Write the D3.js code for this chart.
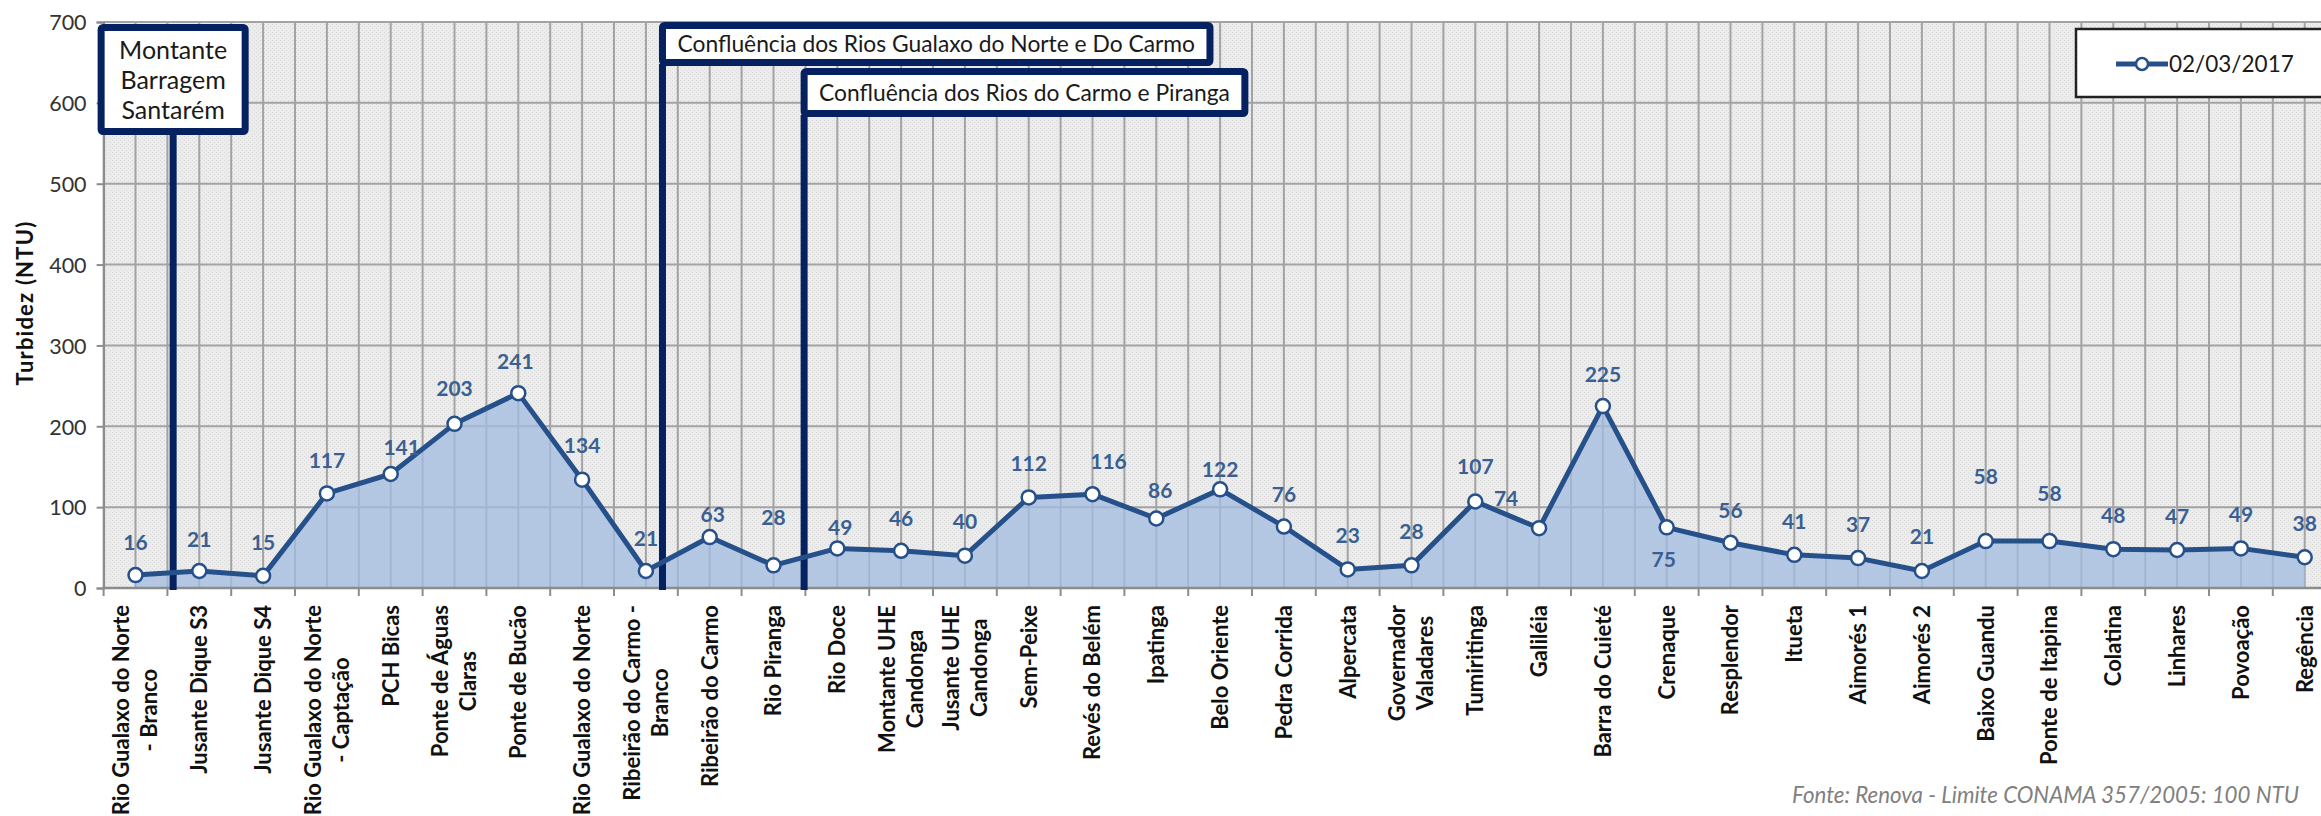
<!DOCTYPE html>
<html><head><meta charset="utf-8">
<script src="https://cdn.jsdelivr.net/npm/d3@7"></script>
<style>
html,body{margin:0;padding:0;background:#fff;}
svg{display:block;}
text{font-family:Lato,"Open Sans",sans-serif;}
</style>
</head><body>
<svg id="chart" width="2321" height="816"></svg>
<script>
// ---------------- DATA ----------------
const categories = [
  "Rio Gualaxo do Norte\n- Branco", "Jusante Dique S3", "Jusante Dique S4",
  "Rio Gualaxo do Norte\n- Captação", "PCH Bicas", "Ponte de Águas\nClaras",
  "Ponte de Bucão", "Rio Gualaxo do Norte", "Ribeirão do Carmo -\nBranco",
  "Ribeirão do Carmo", "Rio Piranga", "Rio Doce", "Montante UHE\nCandonga",
  "Jusante UHE\nCandonga", "Sem-Peixe", "Revés do Belém", "Ipatinga",
  "Belo Oriente", "Pedra Corrida", "Alpercata", "Governador\nValadares",
  "Tumiritinga", "Galiléia", "Barra do Cuieté", "Crenaque", "Resplendor",
  "Itueta", "Aimorés 1", "Aimorés 2", "Baixo Guandu", "Ponte de Itapina",
  "Colatina", "Linhares", "Povoação", "Regência"
];
const values = [16, 21, 15, 117, 141, 203, 241, 134, 21, 63, 28, 49, 46, 40, 112, 116, 86, 122, 76, 23, 28, 107, 74, 225, 75, 56, 41, 37, 21, 58, 58, 48, 47, 49, 38];
const seriesName = "02/03/2017";
const yTicks = [0, 100, 200, 300, 400, 500, 600, 700];
const yTitle = "Turbidez (NTU)";
const sourceNote = "Fonte: Renova - Limite CONAMA 357/2005: 100 NTU";
const annotationLines = [
  ["Montante", "Barragem", "Santarém"],
  ["Confluência dos Rios Gualaxo do Norte e Do Carmo"],
  ["Confluência dos Rios do Carmo e Piranga"]
];

// ---------------- LAYOUT / STYLE ----------------
const W = 2321, H = 816;
const plot = {left: 103.6, top: 22, bottom: 588, band: 63.8};
const C = {
  line: "#26508a", fill: "#a1bbe0", label: "#3a5f92", grid: "#a3a3a3",
  navy: "#06215f", axisText: "#333333"
};
// data-label nudges [dx, dy] relative to point (label centre); default [0,-34]
const labelNudge = {0:[0,-33],1:[0,-32],2:[0,-33],3:[0,-33],4:[11,-27],5:[0,-35],6:[-3,-32],
  8:[0,-33],9:[3,-23],10:[0,-48],11:[3,-21],12:[0,-32],15:[16,-33],16:[4,-28],17:[0,-20],
  18:[0,-32],21:[0,-35],22:[-33,-30],23:[0,-32],24:[-3,32],25:[0,-32],26:[0,-33],28:[0,-35],
  29:[0,-65],30:[0,-48]};
// annotation anchors: category index + fraction of band toward next category
const annotationLayout = [
  {cat: 0, frac: 0.59, align: "center", top: 24, h: 111, lineGap: 30, size: 25, pad: 18},
  {cat: 8, frac: 0.26, align: "left", top: 22, h: 44, size: 22.8, pad: 15},
  {cat: 10, frac: 0.48, align: "left", top: 68, h: 49, size: 22.8, pad: 15}
];

const svg = d3.select("#chart");
svg.append("rect").attr("width", W).attr("height", H).attr("fill", "#fff");

const x = d3.scaleBand().domain(d3.range(categories.length))
  .range([plot.left, plot.left + plot.band * categories.length]).padding(0);
const cx = i => x(i) + x.bandwidth() / 2;
const y = d3.scaleLinear().domain([0, 700]).range([plot.bottom, plot.top]);
const plotRight = W + 20;

// background with fine hatch
const defs = svg.append("defs");
const pat = defs.append("pattern").attr("id", "hatch").attr("width", 4).attr("height", 4)
  .attr("patternUnits", "userSpaceOnUse");
pat.append("rect").attr("width", 4).attr("height", 4).attr("fill", "#ececec");
pat.append("rect").attr("x", 0).attr("y", 0).attr("width", 1).attr("height", 1).attr("fill", "#d9d9d9");
pat.append("rect").attr("x", 2).attr("y", 2).attr("width", 1).attr("height", 1).attr("fill", "#d9d9d9");

svg.append("rect").attr("x", plot.left).attr("y", plot.top)
  .attr("width", plotRight - plot.left).attr("height", plot.bottom - plot.top)
  .attr("fill", "url(#hatch)");

// grid
const g = svg.append("g");
const vlines = [];
for (let i = 0; i <= categories.length; i++) {
  vlines.push(plot.left + i * plot.band);
  if (i < categories.length) vlines.push(cx(i));
}
g.selectAll("line.vg").data(vlines).join("line").attr("class", "vg")
  .attr("x1", d => d).attr("x2", d => d).attr("y1", plot.top).attr("y2", plot.bottom)
  .attr("stroke", C.grid).attr("stroke-width", 2);
g.selectAll("line.hg").data(yTicks).join("line").attr("class", "hg")
  .attr("x1", plot.left).attr("x2", plotRight).attr("y1", d => y(d)).attr("y2", d => y(d))
  .attr("stroke", C.grid).attr("stroke-width", 2);

// area
const area = d3.area().x((d, i) => cx(i)).y0(y(0)).y1(d => y(d));
svg.append("path").datum(values).attr("d", area).attr("fill", C.fill).attr("fill-opacity", 0.75);

// y axis
const yAxis = svg.append("g").attr("transform", `translate(${plot.left},0)`)
  .call(d3.axisLeft(y).tickValues(yTicks).tickSize(7).tickPadding(10).tickFormat(d3.format("d")));
yAxis.select(".domain").attr("stroke", "#8c8c8c").attr("stroke-width", 2);
yAxis.selectAll(".tick line").attr("stroke", "#8c8c8c").attr("stroke-width", 2);
yAxis.selectAll(".tick text").attr("font-size", 21.5).attr("fill", C.axisText)
  .attr("font-family", "Lato, sans-serif").attr("dy", "0.36em");

// x axis baseline and boundary ticks
svg.append("line").attr("x1", plot.left).attr("x2", plotRight).attr("y1", y(0)).attr("y2", y(0))
  .attr("stroke", "#8c8c8c").attr("stroke-width", 2.5);
svg.selectAll("line.xt").data(d3.range(categories.length + 1)).join("line").attr("class", "xt")
  .attr("x1", i => plot.left + i * plot.band).attr("x2", i => plot.left + i * plot.band)
  .attr("y1", y(0)).attr("y2", y(0) + 8).attr("stroke", "#8c8c8c").attr("stroke-width", 2);

// category labels (rotated)
const labelTop = 605, lineH = 28;
categories.forEach((name, i) => {
  const lines = name.split("\n");
  const t = svg.append("text").attr("font-size", 22).attr("font-weight", 700)
    .attr("fill", "#111").attr("text-anchor", "middle");
  lines.forEach((ln, k) => {
    t.append("tspan").attr("x", 0).attr("y", (k - (lines.length - 1) / 2) * lineH)
      .attr("dy", "0.36em").text(ln);
  });
  let L = 0;
  t.selectAll("tspan").each(function () { L = Math.max(L, this.getComputedTextLength()); });
  t.attr("transform", `translate(${cx(i)},${labelTop + L / 2}) rotate(-90)`);
});

// annotations (lines + boxes)
annotationLayout.forEach((a, k) => {
  const lx = cx(a.cat) + a.frac * plot.band;
  const lines = annotationLines[k];
  const grp = svg.append("g");
  const tmp = grp.append("g");
  let maxW = 0;
  lines.forEach(ln => {
    const tt = tmp.append("text").attr("font-size", a.size).text(ln);
    maxW = Math.max(maxW, tt.node().getComputedTextLength());
  });
  tmp.remove();
  const sw = 7;
  const boxW = maxW + 2 * a.pad + sw;
  const bx = a.align === "center" ? lx - boxW / 2 : lx - sw / 2;
  grp.append("line").attr("x1", lx).attr("x2", lx).attr("y1", a.top + a.h - 2).attr("y2", y(0) + 2)
    .attr("stroke", C.navy).attr("stroke-width", sw);
  grp.append("rect").attr("x", bx + sw / 2).attr("y", a.top + sw / 2)
    .attr("width", boxW - sw).attr("height", a.h - sw).attr("rx", 2)
    .attr("fill", "#fff").attr("stroke", C.navy).attr("stroke-width", sw);
  const midX = bx + boxW / 2, midY = a.top + a.h / 2;
  lines.forEach((ln, j) => {
    grp.append("text").attr("x", midX)
      .attr("y", midY + (j - (lines.length - 1) / 2) * (a.lineGap || 0))
      .attr("dy", "0.36em").attr("text-anchor", "middle").attr("font-size", a.size)
      .attr("fill", "#1a1a1a").text(ln);
  });
});

// series line + markers
const line = d3.line().x((d, i) => cx(i)).y(d => y(d));
svg.append("path").datum(values).attr("d", line).attr("fill", "none")
  .attr("stroke", C.line).attr("stroke-width", 5).attr("stroke-linejoin", "round");
svg.selectAll("circle.pt").data(values).join("circle").attr("class", "pt")
  .attr("cx", (d, i) => cx(i)).attr("cy", d => y(d)).attr("r", 7)
  .attr("fill", "#fff").attr("stroke", C.line).attr("stroke-width", 2.5);

// data labels
svg.selectAll("text.dl").data(values).join("text").attr("class", "dl")
  .attr("x", (d, i) => cx(i) + (labelNudge[i] ? labelNudge[i][0] : 0))
  .attr("y", (d, i) => y(d) + (labelNudge[i] ? labelNudge[i][1] : -34))
  .attr("dy", "0.36em").attr("text-anchor", "middle").attr("font-size", 21)
  .attr("font-weight", 700).attr("fill", C.label).text(d => d);

// y title
svg.append("text").attr("transform", "translate(25,303) rotate(-90)")
  .attr("dy", "0.36em").attr("text-anchor", "middle").attr("font-size", 22)
  .attr("font-weight", 700).attr("letter-spacing", 1.2).attr("fill", "#111").text(yTitle);

// legend
const lg = svg.append("g");
lg.append("rect").attr("x", 2076).attr("y", 29).attr("width", 300).attr("height", 68)
  .attr("fill", "#fff").attr("stroke", "#222").attr("stroke-width", 2.5);
lg.append("line").attr("x1", 2116).attr("x2", 2168).attr("y1", 64).attr("y2", 64)
  .attr("stroke", C.line).attr("stroke-width", 5);
lg.append("circle").attr("cx", 2142).attr("cy", 64).attr("r", 6)
  .attr("fill", "#fff").attr("stroke", C.line).attr("stroke-width", 2.5);
lg.append("text").attr("x", 2169).attr("y", 64).attr("dy", "0.36em").attr("font-size", 22.5)
  .attr("fill", "#1a1a1a").text(seriesName);

// source note
svg.append("text").attr("x", 2299).attr("y", 795).attr("dy", "0.36em")
  .attr("text-anchor", "end").attr("font-size", 22.3).attr("font-style", "italic")
  .attr("fill", "#808080").text(sourceNote);
</script>
</body></html>
